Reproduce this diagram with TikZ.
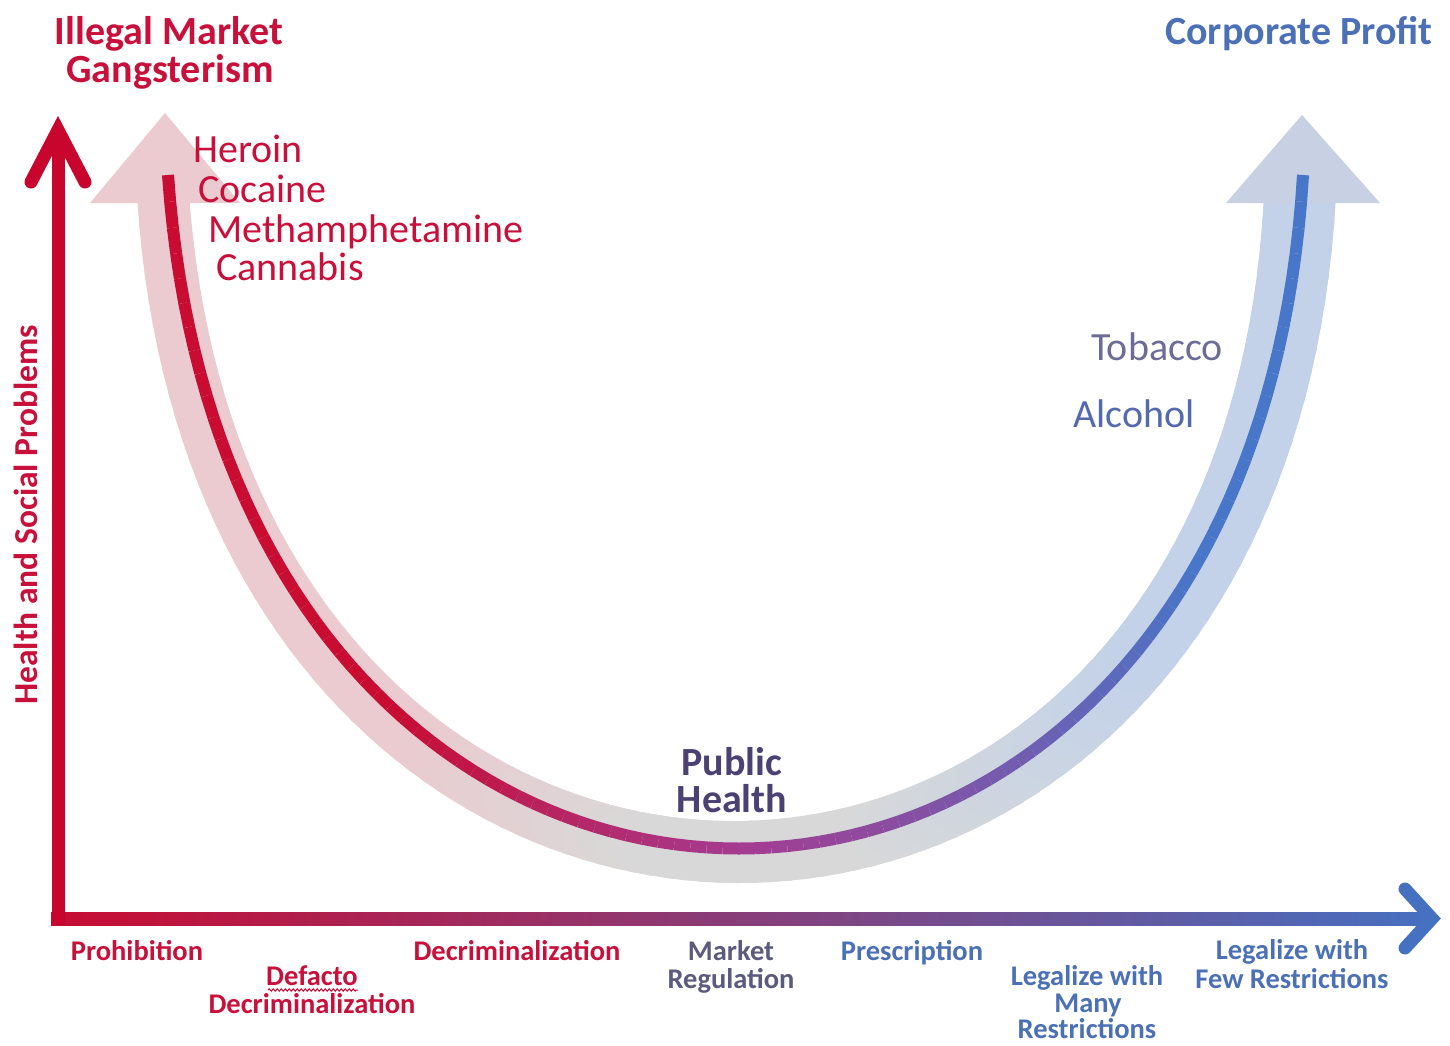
\documentclass[tikz,border=0pt]{standalone}
\usepackage{fontspec}
\setmainfont{Carlito}
\usetikzlibrary{decorations.pathmorphing}
\definecolor{axred}{RGB}{200,5,45}
\definecolor{txred}{RGB}{200,16,58}
\definecolor{lnred}{RGB}{200,12,50}
\definecolor{lnpur}{RGB}{165,60,145}
\definecolor{lnblue}{RGB}{72,118,200}
\definecolor{axpur}{RGB}{170,75,150}
\definecolor{axblue}{RGB}{70,112,192}
\definecolor{bdpink}{RGB}{235,203,207}
\definecolor{bdgrey}{RGB}{216,216,216}
\definecolor{bdblue}{RGB}{195,210,233}
\definecolor{hdblue}{RGB}{200,208,228}
\definecolor{txblue}{RGB}{75,112,182}
\definecolor{txslate}{RGB}{108,108,150}
\definecolor{txalc}{RGB}{85,105,175}
\definecolor{txph}{RGB}{75,65,115}
\definecolor{txmr}{RGB}{92,90,125}
\begin{document}
\begin{tikzpicture}[x=1pt,y=-1pt,
  every node/.style={inner sep=0pt},
  big/.style={font=\fontsize{40}{42}\selectfont},
  bigb/.style={font=\bfseries\fontsize{40}{42}\selectfont},
  lab/.style={font=\bfseries\fontsize{28.5}{29}\selectfont, anchor=base}]
\useasboundingbox[fill=white] (0,0) rectangle (1450,1045);

% wide translucent band
\path (163,195) .. controls (222,1071) and (1255,1071) .. (1300,195)
  \foreach \i [evaluate=\i as \t using \i/100] in {0,...,100} {coordinate[pos=\t] (b\i)};
\foreach \i [count=\j from 1] in {0,...,99} {
  \pgfmathsetmacro\t{(\i+0.5)/100}
  \pgfmathtruncatemacro\pa{min(100,max(0,(\t-0.3)/0.15*100))}
  \pgfmathtruncatemacro\pb{min(100,max(0,(\t-0.58)/0.2*100))}
  \pgfmathsetmacro\w{52+20*\t}
  \draw[line width=\w, line cap=round, color=bdblue!\pb!bdgrey!\pa!bdpink] (b\i) -- (b\j);
}
\fill[bdpink] (165,113) -- (90,203) -- (240,203) -- cycle;
\fill[hdblue] (1302,115) -- (1226,203) -- (1380,203) -- cycle;

% thin gradient curve
\path (168,175) .. controls (230,1073) and (1250,1073) .. (1303,175)
  \foreach \i [evaluate=\i as \t using \i/100] in {0,...,100} {coordinate[pos=\t] (u\i)};
\foreach \i [count=\j from 1] in {0,...,99} {
  \pgfmathsetmacro\t{(\i+0.5)/100}
  \pgfmathtruncatemacro\pa{min(100,max(0,(\t-0.27)/0.23*100))}
  \pgfmathtruncatemacro\pb{min(100,max(0,(\t-0.5)/0.32*100))}
  \draw[line width=12, line cap=butt, color=lnblue!\pb!lnpur!\pa!lnred] (u\i) -- (u\j);
}

% axes
\shade[left color=lnred, middle color=axpur, right color=axblue] (51,912) rectangle (1433,925);
\draw[axred, line width=13] (58,925) -- (58,130);
\draw[axred, line width=13, line cap=round, line join=miter] (31,182) -- (58,130) -- (85,182);
\draw[axblue, line width=13, line cap=round, line join=miter] (1405,889) -- (1432,918.5) -- (1405,948);

% titles
\node[bigb, txred, anchor=base] (ill) at (169,44) {Illegal Market};
\node[bigb, txred, anchor=base] (gang) at (170,82) {Gangsterism};
\node[bigb, txblue, anchor=base east] (corp) at (1433,44) {Corporate Profit};
\node[font=\bfseries\fontsize{33.5}{34}\selectfont, txred, rotate=90, anchor=base] (hsp) at (37,515) {Health and Social Problems};

% drugs
\node[big, txred, anchor=base west] (her) at (193,162) {Heroin};
\node[big, txred, anchor=base west] (coc) at (198,202) {Cocaine};
\node[big, txred, anchor=base west] (met) at (208,242) {Methamphetamine};
\node[big, txred, anchor=base west] (can) at (216,280) {Cannabis};
\node[big, txslate, anchor=base east] (tob) at (1223,360) {Tobacco};
\node[big, txalc, anchor=base west] (alc) at (1073,427) {Alcohol};

\node[bigb, txph, anchor=base] (pub) at (732,775) {Public};
\node[bigb, txph, anchor=base] (hea) at (732,812) {Health};

% policy labels
\node[lab, txred] (pro) at (137,960) {Prohibition};
\node[lab, txred] (def1) at (312,985) {Defacto};
\node[lab, txred] (def2) at (312,1013) {Decriminalization};
\draw[txred, line width=1, decorate, decoration={snake, amplitude=1.2pt, segment length=4pt}] (268,990) -- (358,990);
\node[lab, txred] (dec) at (517,960) {Decriminalization};
\node[lab, txmr] (mr1) at (731,960) {Market};
\node[lab, txmr] (mr2) at (731,988) {Regulation};
\node[lab, txblue] (pre) at (912,960) {Prescription};
\node[lab, txblue] (lm1) at (1087,985) {Legalize with};
\node[lab, txblue] (lm2) at (1088,1012) {Many};
\node[lab, txblue] (lm3) at (1087,1038) {Restrictions};
\node[lab, txblue] (lf1) at (1292,959) {Legalize with};
\node[lab, txblue] (lf2) at (1292,988) {Few Restrictions};
\end{tikzpicture}
\end{document}
